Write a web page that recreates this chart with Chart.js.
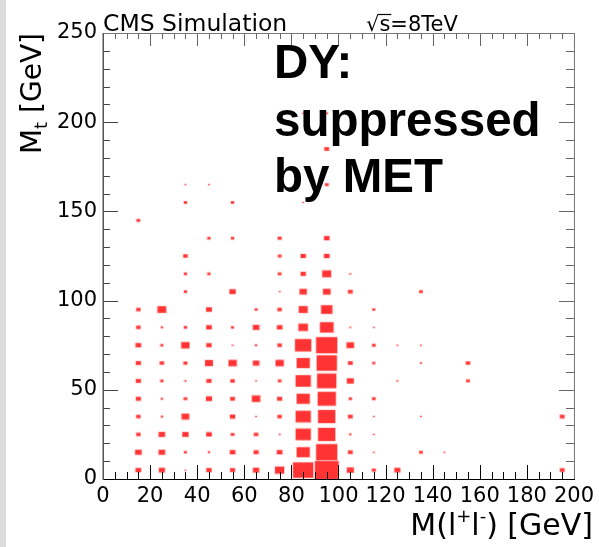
<!DOCTYPE html>
<html>
<head>
<meta charset="utf-8">
<script src="https://cdn.jsdelivr.net/npm/chart.js@4"></script>
<style>
  body { margin: 0; background: #fff; }
  #strip { position: absolute; left: 0; top: 0; width: 6px; height: 547px; background: #dcdcdc; }
  #wrap { position: absolute; left: 0; top: 0; width: 599px; height: 547px; }
</style>
</head>
<body>
<div id="strip"></div>
<div id="wrap"><canvas id="boxChart" width="599" height="547"></canvas></div>
<script>
// bin width of the 2D histogram (GeV), both axes
var binSize = 10;
var xTicks = [0, 20, 40, 60, 80, 100, 120, 140, 160, 180, 200];
var yTicks = [0, 50, 100, 150, 200, 250];

// cell centers and contents, read column by column (x = M(l+l-), y = Mt)
var cellMass = [];
var cellMt = [];
var cellContent = [];

function column(mass, mt, content) {
  for (var i = 0; i < mt.length; i++) {
    cellMass.push(mass);
    cellMt.push(mt[i]);
    cellContent.push(content[i]);
  }
}

column(15,  [5, 15, 25, 35, 45, 55, 65, 75, 85, 95, 145],
            [5, 7, 3, 3, 4, 4, 4, 5, 3, 3, 2]);
column(25,  [5, 15, 25, 35, 45, 55, 65, 75, 85, 95],
            [6, 7, 7, 0.7, 0.7, 1.6, 3, 1.3, 0.7, 13]);
column(35,  [5, 15, 25, 35, 45, 55, 65, 75, 85, 105, 115, 125, 155, 165],
            [0.3, 1.3, 6.5, 10, 2, 0.5, 2.5, 11.5, 1.6, 1.6, 1.6, 3, 1.6, 0.3]);
column(45,  [5, 15, 25, 45, 55, 65, 75, 85, 95, 115, 135, 165],
            [4.5, 0.7, 5, 6, 4, 10.5, 4.5, 5, 5.5, 1.6, 1.6, 0.3]);
column(55,  [5, 15, 25, 35, 45, 55, 65, 75, 85, 105, 135, 155],
            [4, 5, 2, 4.5, 3.5, 3, 11.5, 0.3, 1.3, 6.5, 1.6, 1.6]);
column(65,  [5, 15, 25, 35, 45, 55, 65, 75, 85, 95],
            [6.5, 4, 3, 0.3, 12, 0.3, 7, 0.7, 7, 1.3]);
column(75,  [5, 15, 25, 35, 45, 55, 65, 75, 85, 95, 105, 115, 125, 135],
            [14.5, 5, 0.4, 3, 4, 2, 11.5, 3, 5, 3, 0.3, 2, 2, 2.5]);
column(85,  [5, 15, 25, 35, 45, 55, 65, 75, 85, 95, 105, 115, 125, 155, 205],
            [72, 30, 40, 40, 30, 40, 30, 46, 15.5, 13.5, 9, 4.5, 4.5, 0.3, 0.4]);
column(95,  [5, 15, 25, 35, 45, 55, 65, 75, 85, 95, 105, 115, 125, 135, 165, 185, 205],
            [100, 79, 52, 52, 58, 65, 72, 79, 32, 22, 9.5, 13.5, 5, 5, 2, 3.5, 0.7]);
column(105, [5, 15, 25, 35, 45, 55, 65, 75, 85, 105, 115],
            [8, 3.5, 0.7, 3.5, 1.6, 8, 3.5, 9.5, 0.4, 3.5, 0.4]);
column(115, [5, 15, 25, 35, 45, 65, 75, 85, 95],
            [2.5, 0.3, 0.3, 0.3, 2, 1.3, 2, 0.3, 1.3]);
column(125, [5, 55, 75], [6, 0.4, 0.3]);
column(135, [15, 35, 65, 75, 105], [2, 0.3, 0.5, 0.3, 2]);
column(145, [15], [0.3]);
column(155, [55, 65], [2, 3]);
column(195, [5, 35], [3.5, 3.5]);

var maxContent = Math.max.apply(null, cellContent);

var points = cellMass.map(function (m, i) {
  return { x: m, y: cellMt[i], v: cellContent[i] };
});

// one little canvas per box size, drawn by chart.js as the point image
var boxCache = {};
function boxImage(ctx) {
  if (!ctx.raw) return 'rect';
  var sx = ctx.chart.scales.x, sy = ctx.chart.scales.y;
  var binW = Math.abs(sx.getPixelForValue(binSize) - sx.getPixelForValue(0));
  var binH = Math.abs(sy.getPixelForValue(0) - sy.getPixelForValue(binSize));
  var f = Math.sqrt(ctx.raw.v / maxContent);
  var w = binW * f, h = binH * f;
  var key = w.toFixed(2) + 'x' + h.toFixed(2);
  if (boxCache[key]) return boxCache[key];
  var c = document.createElement('canvas');
  c.width = Math.ceil(w) + 2;
  c.height = Math.ceil(h) + 2;
  var g = c.getContext('2d');
  g.fillStyle = 'rgba(255, 51, 51, 0.3)';
  g.fillRect((c.width - w) / 2 - 0.6, (c.height - h) / 2 - 0.6, w + 1.2, h + 1.2);
  g.fillStyle = '#ff3333';
  g.fillRect((c.width - w) / 2, (c.height - h) / 2, w, h);
  boxCache[key] = c;
  return c;
}

// frame, inward ticks and all the ROOT-style text
var decorations = {
  id: 'decorations',
  afterDraw: function (chart) {
    var c = chart.ctx, a = chart.chartArea;
    var sx = chart.scales.x, sy = chart.scales.y;
    c.save();

    // ticks
    c.lineWidth = 1;
    for (var v = 0; v <= 200; v += 5) {
      var px = Math.round(sx.getPixelForValue(v)) + 0.5;
      var big = v % 20 === 0;
      c.strokeStyle = '#000';
      c.beginPath(); c.moveTo(px, a.bottom); c.lineTo(px, a.bottom - (big ? 14 : 7)); c.stroke();
      c.strokeStyle = '#666';
      c.beginPath(); c.moveTo(px, a.top); c.lineTo(px, a.top + (big ? 13 : 6)); c.stroke();
    }
    for (var t = 0; t <= 250; t += 10) {
      var py = Math.round(sy.getPixelForValue(t)) + 0.5;
      var major = t % 50 === 0;
      c.strokeStyle = '#444';
      c.beginPath(); c.moveTo(a.left, py); c.lineTo(a.left + (major ? 15 : 7), py); c.stroke();
      c.strokeStyle = '#666';
      c.beginPath(); c.moveTo(a.right, py); c.lineTo(a.right - (major ? 15 : 8), py); c.stroke();
    }

    // frame
    c.strokeStyle = '#777';
    c.beginPath();
    c.moveTo(a.left, a.top + 0.5); c.lineTo(a.right + 0.5, a.top + 0.5); c.lineTo(a.right + 0.5, a.bottom);
    c.stroke();
    c.strokeStyle = '#000';
    c.beginPath(); c.moveTo(a.left, a.bottom + 0.5); c.lineTo(a.right + 1, a.bottom + 0.5); c.stroke();
    c.strokeStyle = '#555';
    c.lineWidth = 1.5;
    c.beginPath(); c.moveTo(a.left + 0.25, a.top); c.lineTo(a.left + 0.25, a.bottom + 1); c.stroke();

    c.fillStyle = '#000';
    c.textBaseline = 'alphabetic';
    c.textAlign = 'left';

    // header
    c.font = '23.5px "DejaVu Sans"';
    c.fillText('CMS Simulation', 103, 31);
    c.font = '21px "DejaVu Sans"';
    var sq = c.measureText('\u221A').width, sw = c.measureText('s').width;
    c.fillText('\u221As=8TeV', 366, 31);
    c.lineWidth = 1.2;
    c.strokeStyle = '#000';
    c.beginPath(); c.moveTo(366 + sq - 1, 14.5); c.lineTo(366 + sq + sw + 1, 14.5); c.stroke();

    // DY label
    c.font = 'bold 47.5px "Liberation Sans"';
    c.fillText('DY:', 274, 78);
    c.fillText('suppressed', 274, 136);
    c.fillText('by MET', 274, 192);

    // x title: M(l+l-) [GeV], right aligned
    var big = '30px "DejaVu Sans"', small = '18px "DejaVu Sans"';
    var parts = [['M(l', big, 0], ['+', small, -13], ['l', big, 0], ['-', small, -13], [') [GeV]', big, 0]];
    var total = 0;
    parts.forEach(function (p) { c.font = p[1]; total += c.measureText(p[0]).width; });
    var x = 593 - total;
    parts.forEach(function (p) {
      c.font = p[1];
      c.fillText(p[0], x, 535 + p[2]);
      x += c.measureText(p[0]).width;
    });

    // y title: Mt [GeV], rotated, top aligned
    c.translate(41, 33);
    c.rotate(-Math.PI / 2);
    var yparts = [['M', '29px "DejaVu Sans"', 0], ['t', '18px "DejaVu Sans"', 6], [' [GeV]', '28px "DejaVu Sans"', 0]];
    var ytotal = 0;
    yparts.forEach(function (p) { c.font = p[1]; ytotal += c.measureText(p[0]).width; });
    var yx = -ytotal;
    yparts.forEach(function (p) {
      c.font = p[1];
      c.fillText(p[0], yx, p[2]);
      yx += c.measureText(p[0]).width;
    });

    c.restore();
  }
};

var ctx = document.getElementById('boxChart').getContext('2d');
var chart = new Chart(ctx, {
  type: 'scatter',
  data: {
    datasets: [{
      label: 'DY',
      data: points,
      pointStyle: boxImage,
      radius: 1,
      hoverRadius: 1,
      backgroundColor: '#ff3333',
      borderWidth: 0
    }]
  },
  options: {
    responsive: false,
    animation: false,
    layout: { padding: { top: 33, right: 23, left: 0, bottom: 0 } },
    plugins: { legend: { display: false }, tooltip: { enabled: false } },
    scales: {
      x: {
        type: 'linear',
        min: 0,
        max: 200,
        afterFit: function (s) { s.height = 68; },
        afterBuildTicks: function (s) { s.ticks = xTicks.map(function (v) { return { value: v }; }); },
        grid: { display: false, drawTicks: false },
        border: { display: false },
        ticks: { color: '#000', padding: 5, maxRotation: 0, autoSkip: false, font: { family: 'DejaVu Sans', size: 21 } }
      },
      y: {
        type: 'linear',
        min: 0,
        max: 250,
        afterFit: function (s) { s.width = 103; },
        afterBuildTicks: function (s) { s.ticks = yTicks.map(function (v) { return { value: v }; }); },
        grid: { display: false, drawTicks: false },
        border: { display: false },
        ticks: { color: '#000', padding: 6, autoSkip: false, font: { family: 'DejaVu Sans', size: 21 } }
      }
    }
  },
  plugins: [decorations]
});
</script>
</body>
</html>
